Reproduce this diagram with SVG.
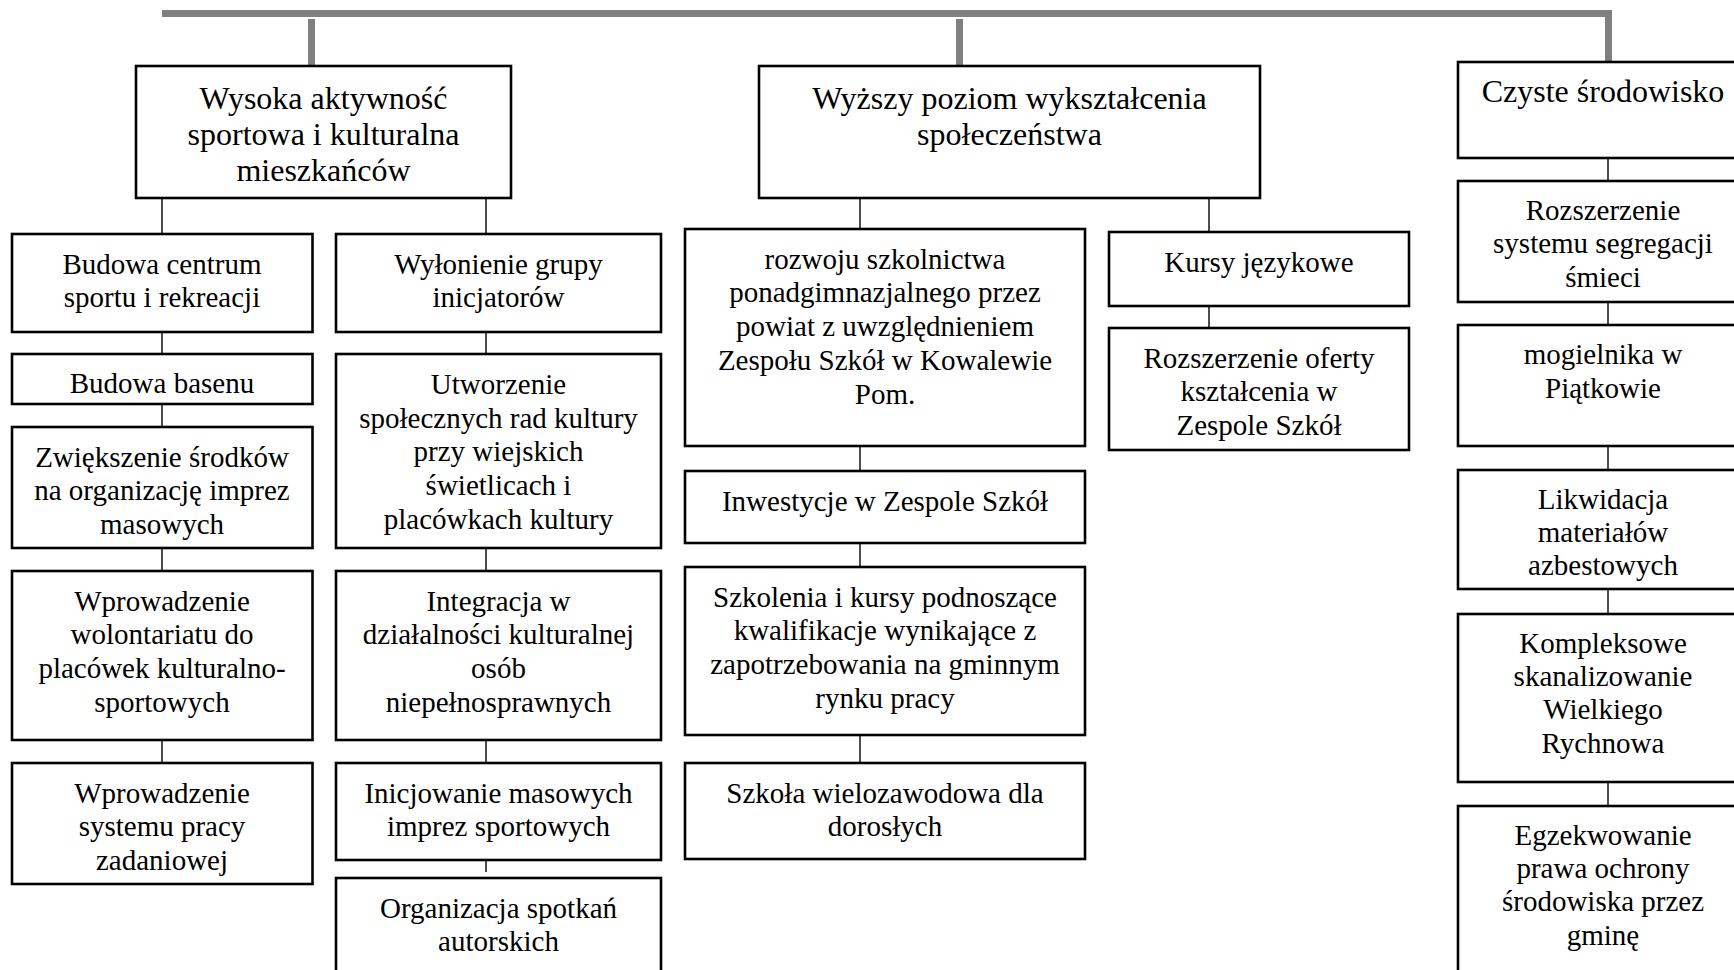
<svg xmlns="http://www.w3.org/2000/svg" width="1734" height="970" viewBox="0 0 1734 970">
<style>
.b{fill:#fff;stroke:#000;stroke-width:2.6}
.t{font-family:"Liberation Serif","Times New Roman",serif;font-size:29px;fill:#000;text-anchor:middle}
.h{font-size:32px}
.c{stroke:#222;stroke-width:1.6;fill:none}
.g{stroke:#808080;stroke-width:7;fill:none}
</style>
<rect width="1734" height="970" fill="#fff"/>
<g id="connectors">
<polyline class="g" points="162,13.5 1608.5,13.5 1608.5,62"/>
<line class="g" x1="311.5" y1="19" x2="311.5" y2="66"/>
<line class="g" x1="959.5" y1="19" x2="959.5" y2="66"/>
<path class="c" d="M162,198V234M162,332V354M162,404V427M162,548V571M162,740V763"/>
<path class="c" d="M486,198V234M486,332V354M486,548V571M486,740V763M486,860V872"/>
<path class="c" d="M860,198V229M860,446V471M860,543V567M860,735V763"/>
<path class="c" d="M1209,198V232M1209,306V328"/>
<path class="c" d="M1608,158V181M1608,302V325M1608,446V470M1608,589V614M1608,782V806"/>
</g>
<g id="n-sport">
<rect class="b" x="136" y="66" width="375" height="132"/>
<text class="t h" x="323.5" y="109">Wysoka aktywność</text>
<text class="t h" x="323.5" y="145">sportowa i kulturalna</text>
<text class="t h" x="323.5" y="181">mieszkańców</text>
</g>
<g id="n-edu">
<rect class="b" x="759" y="66" width="501" height="132"/>
<text class="t h" x="1009.5" y="109">Wyższy poziom wykształcenia</text>
<text class="t h" x="1009.5" y="145">społeczeństwa</text>
</g>
<g id="n-env">
<rect class="b" x="1458" y="62" width="290" height="96"/>
<text class="t h" x="1603" y="102">Czyste środowisko</text>
</g>
<g id="n-centrum">
<rect class="b" x="12" y="234" width="300.5" height="98"/>
<text class="t" x="162" y="273.5">Budowa centrum</text>
<text class="t" x="162" y="307">sportu i rekreacji</text>
</g>
<g id="n-basen">
<rect class="b" x="12" y="354" width="300.5" height="50"/>
<text class="t" x="162" y="393">Budowa basenu</text>
</g>
<g id="n-srodki">
<rect class="b" x="12" y="427" width="300.5" height="121"/>
<text class="t" x="162" y="466.5">Zwiększenie środków</text>
<text class="t" x="162" y="500">na organizację imprez</text>
<text class="t" x="162" y="533.5">masowych</text>
</g>
<g id="n-wolont">
<rect class="b" x="12" y="571" width="300.5" height="169"/>
<text class="t" x="162" y="610.5">Wprowadzenie</text>
<text class="t" x="162" y="644">wolontariatu do</text>
<text class="t" x="162" y="678">placówek kulturalno-</text>
<text class="t" x="162" y="711.5">sportowych</text>
</g>
<g id="n-zadan">
<rect class="b" x="12" y="763" width="300.5" height="121"/>
<text class="t" x="162" y="802.5">Wprowadzenie</text>
<text class="t" x="162" y="836">systemu pracy</text>
<text class="t" x="162" y="869.5">zadaniowej</text>
</g>
<g id="n-inicjat">
<rect class="b" x="336" y="234" width="325" height="98"/>
<text class="t" x="498.5" y="273.5">Wyłonienie grupy</text>
<text class="t" x="498.5" y="307">inicjatorów</text>
</g>
<g id="n-rady">
<rect class="b" x="336" y="354" width="325" height="194"/>
<text class="t" x="498.5" y="394">Utworzenie</text>
<text class="t" x="498.5" y="427.5">społecznych rad kultury</text>
<text class="t" x="498.5" y="461">przy wiejskich</text>
<text class="t" x="498.5" y="494.5">świetlicach i</text>
<text class="t" x="498.5" y="528.5">placówkach kultury</text>
</g>
<g id="n-integr">
<rect class="b" x="336" y="571" width="325" height="169"/>
<text class="t" x="498.5" y="610.5">Integracja w</text>
<text class="t" x="498.5" y="644">działalności kulturalnej</text>
<text class="t" x="498.5" y="678">osób</text>
<text class="t" x="498.5" y="711.5">niepełnosprawnych</text>
</g>
<g id="n-imprezy">
<rect class="b" x="336" y="763" width="325" height="97"/>
<text class="t" x="498.5" y="802.5">Inicjowanie masowych</text>
<text class="t" x="498.5" y="836">imprez sportowych</text>
</g>
<g id="n-spotkania">
<rect class="b" x="336" y="878" width="325" height="100"/>
<text class="t" x="498.5" y="917.5">Organizacja spotkań</text>
<text class="t" x="498.5" y="951">autorskich</text>
</g>
<g id="n-rozwoj">
<rect class="b" x="685" y="229" width="400" height="217"/>
<text class="t" x="885" y="268.5">rozwoju szkolnictwa</text>
<text class="t" x="885" y="302">ponadgimnazjalnego przez</text>
<text class="t" x="885" y="336">powiat z uwzględnieniem</text>
<text class="t" x="885" y="369.5">Zespołu Szkół w Kowalewie</text>
<text class="t" x="885" y="403.5">Pom.</text>
</g>
<g id="n-inwest">
<rect class="b" x="685" y="471" width="400" height="72"/>
<text class="t" x="885" y="510.5">Inwestycje w Zespole Szkół</text>
</g>
<g id="n-szkolenia">
<rect class="b" x="685" y="567" width="400" height="168"/>
<text class="t" x="885" y="606.5">Szkolenia i kursy podnoszące</text>
<text class="t" x="885" y="640">kwalifikacje wynikające z</text>
<text class="t" x="885" y="674">zapotrzebowania na gminnym</text>
<text class="t" x="885" y="707.5">rynku pracy</text>
</g>
<g id="n-szkola">
<rect class="b" x="685" y="763" width="400" height="96"/>
<text class="t" x="885" y="802.5">Szkoła wielozawodowa dla</text>
<text class="t" x="885" y="836">dorosłych</text>
</g>
<g id="n-kursy">
<rect class="b" x="1109" y="232" width="300" height="74"/>
<text class="t" x="1259" y="271.5">Kursy językowe</text>
</g>
<g id="n-oferta">
<rect class="b" x="1109" y="328" width="300" height="122"/>
<text class="t" x="1259" y="367.5">Rozszerzenie oferty</text>
<text class="t" x="1259" y="401">kształcenia w</text>
<text class="t" x="1259" y="434.5">Zespole Szkół</text>
</g>
<g id="n-segreg">
<rect class="b" x="1458" y="181" width="290" height="121"/>
<text class="t" x="1603" y="220">Rozszerzenie</text>
<text class="t" x="1603" y="253">systemu segregacji</text>
<text class="t" x="1603" y="286.5">śmieci</text>
</g>
<g id="n-mogil">
<rect class="b" x="1458" y="325" width="290" height="121"/>
<text class="t" x="1603" y="364">mogielnika w</text>
<text class="t" x="1603" y="397.5">Piątkowie</text>
</g>
<g id="n-azbest">
<rect class="b" x="1458" y="470" width="290" height="119"/>
<text class="t" x="1603" y="509">Likwidacja</text>
<text class="t" x="1603" y="542">materiałów</text>
<text class="t" x="1603" y="575">azbestowych</text>
</g>
<g id="n-kanal">
<rect class="b" x="1458" y="614" width="290" height="168"/>
<text class="t" x="1603" y="652.5">Kompleksowe</text>
<text class="t" x="1603" y="686">skanalizowanie</text>
<text class="t" x="1603" y="719">Wielkiego</text>
<text class="t" x="1603" y="752.5">Rychnowa</text>
</g>
<g id="n-prawo">
<rect class="b" x="1458" y="806" width="290" height="175"/>
<text class="t" x="1603" y="844.5">Egzekwowanie</text>
<text class="t" x="1603" y="878">prawa ochrony</text>
<text class="t" x="1603" y="911">środowiska przez</text>
<text class="t" x="1603" y="944.5">gminę</text>
</g>
</svg>
